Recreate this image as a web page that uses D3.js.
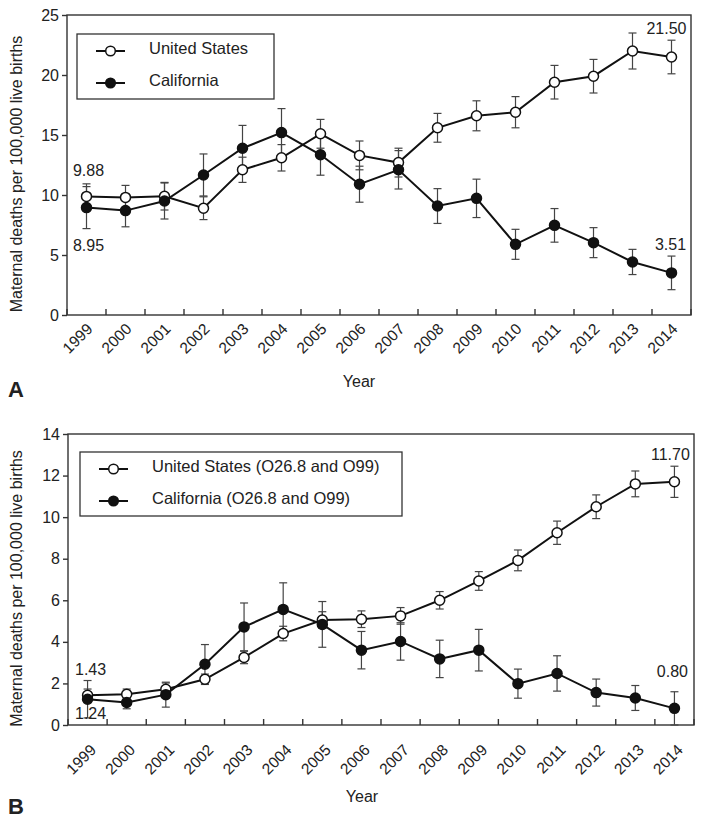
<!DOCTYPE html>
<html>
<head>
<meta charset="utf-8">
<script src="https://cdn.jsdelivr.net/npm/d3@7/dist/d3.min.js"></script>
<style>
  body { margin: 0; background: #fff; }
  svg { font-family: "Liberation Sans", Arial, sans-serif; }
</style>
</head>
<body>
<svg width="704" height="822"></svg>
<script>
const years = ["1999","2000","2001","2002","2003","2004","2005","2006","2007","2008","2009","2010","2011","2012","2013","2014"];

// panel A: all maternal deaths
const usA = [9.88, 9.8, 9.9, 8.9, 12.1, 13.1, 15.1, 13.3, 12.7, 15.6, 16.6, 16.9, 19.4, 19.9, 22.0, 21.5];
const usAErr = [1.05, 1.0, 1.15, 0.95, 1.05, 1.1, 1.2, 1.2, 1.2, 1.2, 1.25, 1.3, 1.4, 1.4, 1.5, 1.4];
const caA = [8.95, 8.7, 9.5, 11.67, 13.9, 15.2, 13.35, 10.9, 12.1, 9.08, 9.72, 5.89, 7.47, 6.03, 4.42, 3.51];
const caAErr = [1.75, 1.35, 1.5, 1.75, 1.9, 2.0, 1.7, 1.5, 1.6, 1.45, 1.6, 1.25, 1.4, 1.25, 1.05, 1.4];
const ticksA = [0, 5, 10, 15, 20, 25];
const namesA = ["United States", "California"];

// panel B: O26.8 and O99
const usB = [1.43, 1.48, 1.72, 2.2, 3.25, 4.4, 5.05, 5.09, 5.25, 6.0, 6.93, 7.92, 9.25, 10.5, 11.6, 11.7];
const usBErr = [0.3, 0.25, 0.3, 0.25, 0.3, 0.35, 0.4, 0.4, 0.4, 0.42, 0.45, 0.5, 0.56, 0.57, 0.62, 0.75];
const caB = [1.24, 1.08, 1.46, 2.92, 4.72, 5.56, 4.84, 3.6, 4.02, 3.18, 3.6, 1.99, 2.48, 1.56, 1.3, 0.80];
const caBErr = [0.9, 0.3, 0.6, 0.95, 1.15, 1.28, 1.1, 0.9, 0.9, 0.9, 1.0, 0.7, 0.85, 0.65, 0.6, 0.8];
const ticksB = [0, 2, 4, 6, 8, 10, 12, 14];
const namesB = ["United States (O26.8 and O99)", "California (O26.8 and O99)"];

const svg = d3.select("svg");
const ink = "#222";
const fs = 16;

function drawPanel(p) {
    const x = d3.scaleBand().domain(years).range([p.left, p.right]);
    const y = d3.scaleLinear().domain([0, p.max]).range([p.bottom, p.top]);
    const cx = d => x(d) + x.bandwidth() / 2;
    const g = svg.append("g");

    // frame
    g.append("rect")
        .attr("x", p.left).attr("y", p.top)
        .attr("width", p.right - p.left).attr("height", p.bottom - p.top)
        .attr("fill", "none").attr("stroke", "#333").attr("stroke-width", 1.4);

    const yAxis = g.append("g")
        .attr("transform", `translate(${p.left},0)`)
        .call(d3.axisLeft(y).tickValues(p.ticks).tickSize(5).tickFormat(d3.format("d")));
    yAxis.select(".domain").remove();
    yAxis.selectAll("line").attr("stroke", "#333").attr("stroke-width", 1.4);
    yAxis.selectAll("text").attr("font-size", fs).attr("fill", ink).attr("x", -8)
        .attr("font-family", "Liberation Sans, Arial, sans-serif");

    // x ticks on band edges, pointing inwards
    const edges = years.map(d => x(d)).concat([p.right]);
    g.selectAll(".xt").data(edges).enter().append("line")
        .attr("x1", d => d).attr("x2", d => d)
        .attr("y1", p.bottom).attr("y2", p.bottom - 6)
        .attr("stroke", "#333").attr("stroke-width", 1.4);

    g.selectAll(".xl").data(years).enter().append("text")
        .attr("transform", d => `translate(${cx(d) + p.lblDx},${p.bottom + p.lblDy}) rotate(-45)`)
        .attr("text-anchor", "end")
        .attr("font-size", 15.5).attr("fill", ink)
        .text(d => d);

    g.append("text")
        .attr("transform", `translate(${p.titleX},${(p.top + p.bottom) / 2 + 9}) rotate(-90)`)
        .attr("text-anchor", "middle").attr("font-size", fs).attr("fill", ink)
        .text("Maternal deaths per 100,000 live births");

    g.append("text").attr("x", p.yearX).attr("y", p.yearY)
        .attr("text-anchor", "middle").attr("font-size", fs).attr("fill", ink)
        .text("Year");

    g.append("text").attr("x", 8).attr("y", p.letterY)
        .attr("font-size", 22).attr("font-weight", "bold").attr("fill", ink)
        .text(p.letter);

    const series = [
        { vals: p.us, err: p.usErr, fill: "#fff" },
        { vals: p.ca, err: p.caErr, fill: "#111" }
    ];

    series.forEach(s => {
        const eg = g.append("g").attr("stroke", "#444").attr("stroke-width", 1.2);
        years.forEach((yr, i) => {
            const lo = y(Math.max(0, s.vals[i] - s.err[i]));
            const hi = y(s.vals[i] + s.err[i]);
            eg.append("line").attr("x1", cx(yr)).attr("x2", cx(yr)).attr("y1", lo).attr("y2", hi);
            eg.append("line").attr("x1", cx(yr) - 4).attr("x2", cx(yr) + 4).attr("y1", lo).attr("y2", lo);
            eg.append("line").attr("x1", cx(yr) - 4).attr("x2", cx(yr) + 4).attr("y1", hi).attr("y2", hi);
        });
    });

    series.forEach(s => {
        const line = d3.line().x((d, i) => cx(years[i])).y(d => y(d));
        g.append("path").datum(s.vals)
            .attr("d", line).attr("fill", "none")
            .attr("stroke", "#111").attr("stroke-width", 2);
        g.selectAll(null).data(s.vals).enter().append("circle")
            .attr("cx", (d, i) => cx(years[i])).attr("cy", d => y(d))
            .attr("r", 5).attr("fill", s.fill)
            .attr("stroke", "#111").attr("stroke-width", 1.5);
    });

    // value labels
    p.labels.forEach(l => {
        g.append("text")
            .attr("x", cx(years[l.i]) + l.dx).attr("y", y(l.v) + l.dy)
            .attr("text-anchor", "middle").attr("font-size", fs).attr("fill", ink)
            .text(l.v.toFixed(2));
    });

    // legend
    const lg = g.append("g");
    lg.append("rect")
        .attr("x", p.leg.x).attr("y", p.leg.y).attr("width", p.leg.w).attr("height", p.leg.h)
        .attr("fill", "#fff").attr("stroke", "#333").attr("stroke-width", 1.3);
    p.names.forEach((n, i) => {
        const yy = p.leg.y + 17 + i * p.leg.gap;
        const x0 = p.leg.x + 19;
        lg.append("line").attr("x1", x0).attr("x2", x0 + 29).attr("y1", yy).attr("y2", yy)
            .attr("stroke", "#111").attr("stroke-width", 2);
        lg.append("circle").attr("cx", x0 + 14.5).attr("cy", yy).attr("r", 4.8)
            .attr("fill", series[i].fill).attr("stroke", "#111").attr("stroke-width", 1.5);
        lg.append("text").attr("x", x0 + 53).attr("y", yy + 3)
            .attr("font-size", 16.5).attr("fill", ink).text(n);
    });
}

drawPanel({
    left: 67, right: 691, top: 15, bottom: 315, max: 25, ticks: ticksA,
    us: usA, usErr: usAErr, ca: caA, caErr: caAErr, names: namesA,
    titleX: 22, yearX: 359, yearY: 387, letter: "A", letterY: 397,
    lblDx: 7, lblDy: 15,
    leg: { x: 77, y: 34, w: 197, h: 65, gap: 32 },
    labels: [
        { i: 0, v: usA[0], dx: 2, dy: -20 },
        { i: 0, v: caA[0], dx: 2, dy: 43 },
        { i: 15, v: usA[15], dx: -5, dy: -23 },
        { i: 15, v: caA[15], dx: -1, dy: -23 }
    ]
});

drawPanel({
    left: 68, right: 694, top: 434, bottom: 725, max: 14, ticks: ticksB,
    us: usB, usErr: usBErr, ca: caB, caErr: caBErr, names: namesB,
    titleX: 22, yearX: 362, yearY: 802, letter: "B", letterY: 814,
    lblDx: 9.5, lblDy: 26,
    leg: { x: 80, y: 452, w: 322, h: 64, gap: 32 },
    labels: [
        { i: 0, v: usB[0], dx: 3, dy: -20 },
        { i: 0, v: caB[0], dx: 3, dy: 20 },
        { i: 15, v: usB[15], dx: -4, dy: -22 },
        { i: 15, v: caB[15], dx: -2, dy: -31 }
    ]
});
</script>
</body>
</html>
